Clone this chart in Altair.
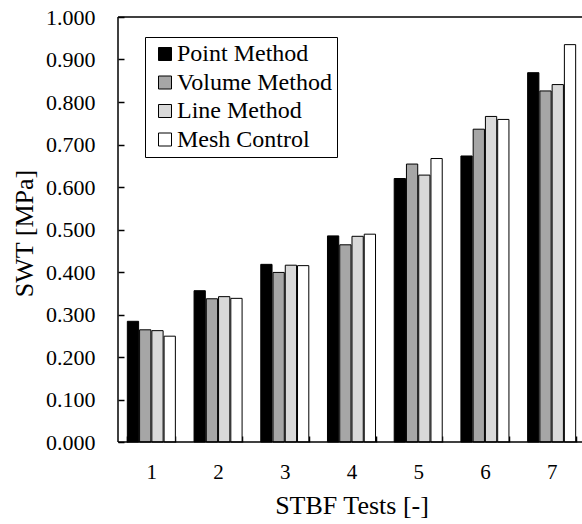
import altair as alt
import pandas as pd

# Shear wall thickness per STBF test, one series per modelling method
tests = ["1", "2", "3", "4", "5", "6", "7"]
methods = ["Point Method", "Volume Method", "Line Method", "Mesh Control"]
point_method = [0.284, 0.356, 0.418, 0.485, 0.620, 0.673, 0.869]
volume_method = [0.264, 0.337, 0.399, 0.464, 0.654, 0.736, 0.826]
line_method = [0.262, 0.342, 0.416, 0.484, 0.628, 0.766, 0.841]
mesh_control = [0.249, 0.338, 0.415, 0.489, 0.667, 0.759, 0.935]
fills = ["#000000", "#A6A6A6", "#D9D9D9", "#FFFFFF"]
y_ticks = [round(i * 0.1, 1) for i in range(11)]

series = [point_method, volume_method, line_method, mesh_control]
rows = []
for name, vals in zip(methods, series):
    for t, v in zip(tests, vals):
        rows.append({"test": t, "method": name, "swt": v})
df = pd.DataFrame(rows)

FONT = "Liberation Serif"
W, H = 464, 425

x_scale = alt.Scale(domain=tests, range=[0, 467], paddingInner=0.28, paddingOuter=0.14)
y_scale = alt.Scale(domain=[0, 1], nice=False)

y_axis = alt.Axis(
    title="SWT [MPa]",
    values=y_ticks,
    format=".3f",
    grid=False,
    domain=False,
    offset=-6,
    tickSize=6,
    tickWidth=1.5,
    tickColor="black",
    labelPadding=23,
    labelFont=FONT,
    labelFontSize=22,
    labelColor="black",
    titleFont=FONT,
    titleFontSize=26,
    titleFontWeight="normal",
    titleColor="black",
    titleBaseline="alphabetic",
    titleX=-92,
    titleY=216,
)

bars = alt.Chart(df).mark_bar(stroke="black", strokeWidth=1).encode(
    x=alt.X(
        "test:N",
        scale=x_scale,
        sort=tests,
        axis=alt.Axis(
            title="STBF Tests [-]",
            labelAngle=0,
            domain=False,
            offset=-6,
            tickSize=6,
            tickWidth=1.5,
            tickColor="black",
            tickBand="extent",
            labelPadding=36,
            labelBaseline="alphabetic",
            labelFont=FONT,
            labelFontSize=21,
            labelColor="black",
            titleFont=FONT,
            titleFontSize=26,
            titleFontWeight="normal",
            titleColor="black",
            titleBaseline="alphabetic",
            titleY=77,
        ),
    ),
    xOffset=alt.XOffset("method:N", sort=methods, scale=alt.Scale(domain=methods, paddingInner=0.08)),
    y=alt.Y("swt:Q", scale=y_scale, axis=y_axis),
    color=alt.Color(
        "method:N",
        sort=methods,
        scale=alt.Scale(domain=methods, range=fills),
        legend=alt.Legend(
            title=None,
            orient="none",
            legendX=27,
            legendY=20,
            direction="vertical",
            strokeColor="black",
            fillColor="white",
            padding=5,
            symbolType="square",
            symbolSize=169,
            symbolStrokeColor="black",
            symbolStrokeWidth=1,
            symbolOffset=3,
            labelFont=FONT,
            labelFontSize=24,
            labelColor="black",
            labelOffset=0,
            rowPadding=4.5,
        ),
    ),
)

# Chart frame: bottom and top edges on the value scale, left edge on the axis
frame_h = alt.Chart(pd.DataFrame({"v": [0.0, 1.0]})).mark_rule(
    color="black", strokeWidth=1.5
).encode(y=alt.Y("v:Q", scale=y_scale, axis=y_axis))
frame_v = alt.Chart(pd.DataFrame({"v": [0]})).mark_rule(
    color="black", strokeWidth=1.5
).encode(x=alt.value(0))

chart = (
    alt.layer(bars, frame_h, frame_v)
    .properties(
        width=W,
        height=H,
        autosize=alt.AutoSizeParams(type="none"),
        padding={"left": 118, "top": 17, "right": 0, "bottom": 82},
        background="white",
    )
    .configure(font=FONT)
    .configure_view(stroke=None)
)

chart.save("out.html", embed_options={"renderer": "svg", "actions": False})
